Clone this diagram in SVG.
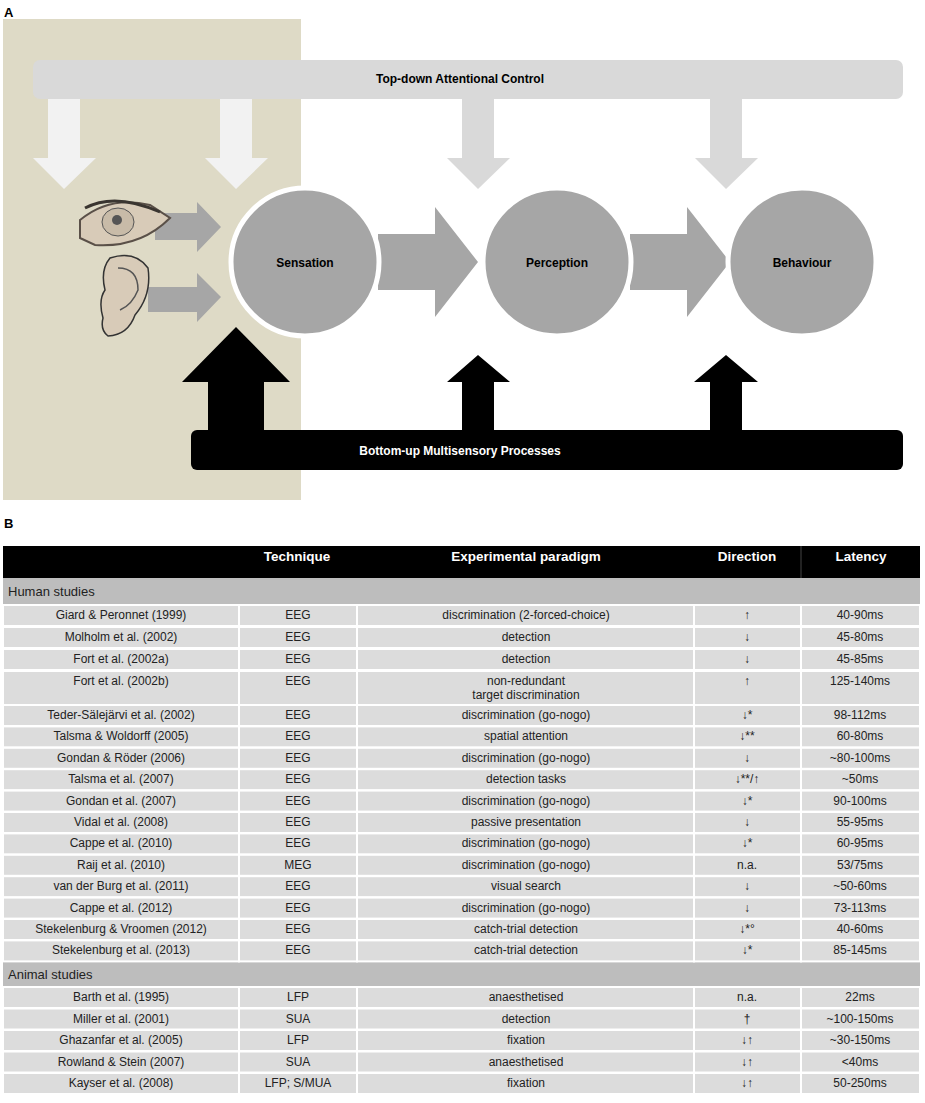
<svg xmlns="http://www.w3.org/2000/svg" width="925" height="1103" viewBox="0 0 925 1103">
<style>
.lbl{font-family:"Liberation Sans",Arial,sans-serif;font-weight:bold;font-size:12px;text-anchor:middle;dominant-baseline:central}
.t{font-family:"Liberation Sans",Arial,sans-serif;font-size:12px;fill:#222;text-anchor:middle;dominant-baseline:central}
.h{font-family:"Liberation Sans",Arial,sans-serif;font-weight:bold;font-size:13.5px;fill:#fff;text-anchor:middle;dominant-baseline:central}
.row{fill:#dcdcdc;stroke:#fff;stroke-width:2}
.sec{fill:#bdbdbd}
.circ{fill:#a6a6a6;stroke:#fff;stroke-width:5}
.ga{fill:#a6a6a6}
.wa{fill:#f2f2f2}
.la{fill:#d9d9d9}
</style>
<rect width="925" height="1103" fill="#fff"/>
<text x="4" y="12" class="lbl" style="text-anchor:start;font-size:13px">A</text>
<text x="4" y="523" class="lbl" style="text-anchor:start;font-size:13px">B</text>
<rect x="3" y="19" width="298" height="481" fill="#dedac6"/>

<g id="topdown">
<rect x="33" y="60" width="870" height="39" rx="7" fill="#d9d9d9"/>
<text x="460" y="79" class="lbl">Top-down Attentional Control</text>
</g>
<g id="bottomup">
<rect x="191" y="430" width="712" height="40" rx="6" fill="#000"/>
<text x="460" y="451" class="lbl" fill="#fff">Bottom-up Multisensory Processes</text>
</g>
<g id="connectors">
<path class="wa" d="M48,99 H80 V158 H96 L64,189 L33,158 H48 Z"/>
<path class="wa" d="M220,99 H252 V158 H268 L236,189 L205,158 H220 Z"/>
<path class="la" d="M462,99 H494 V158 H510 L478,189 L447,158 H462 Z"/>
<path class="la" d="M710,99 H742 V158 H758 L726,189 L695,158 H710 Z"/>
<path class="ga" d="M155,213 H197 V202 L221,227 L197,252 V240 H155 Z"/>
<path class="ga" d="M148,287 H197 V273 L221,297 L197,322 V312 H148 Z"/>
<path class="ga" d="M378,234 H435 V207 L478,262 L435,317 V290 H378 Z"/>
<path class="ga" d="M630,234 H687 V207 L730,262 L687,317 V290 H630 Z"/>
<path d="M208,431 V382 H182 L236,327 L290,382 H264 V431 Z" fill="#000"/>
<path d="M462,431 V382 H447 L478,355 L510,382 H494 V431 Z" fill="#000"/>
<path d="M710,431 V382 H694 L726,355 L758,382 H742 V431 Z" fill="#000"/>
</g>
<g id="eye">
<path d="M80,220 Q110,195 150,205 L170,218 Q140,248 95,245 L80,238 Z" fill="#d8cbb8" stroke="#5a5048" stroke-width="2"/>
<ellipse cx="118" cy="222" rx="16" ry="14" fill="#c8bba8" stroke="#555" stroke-width="1"/>
<circle cx="117" cy="220" r="5" fill="#555"/>
<path d="M85,208 Q115,192 160,212" fill="none" stroke="#3a3530" stroke-width="3"/>
</g>
<g id="ear">
<path d="M110,258 Q135,250 148,268 Q152,295 135,315 Q128,335 108,336 Q100,330 103,318 Q98,300 105,290 Q100,270 110,258 Z" fill="#d8cbb8" stroke="#333" stroke-width="1.5"/>
<path d="M118,268 Q138,268 138,290 Q132,305 120,310" fill="none" stroke="#555" stroke-width="1.5"/>
</g>
<g id="sensation"><circle cx="305" cy="262" r="74" class="circ"/><text x="305" y="263" class="lbl">Sensation</text></g>
<g id="perception"><circle cx="557" cy="262" r="74" class="circ"/><text x="557" y="263" class="lbl">Perception</text></g>
<g id="behaviour"><circle cx="802" cy="262" r="74" class="circ"/><text x="802" y="263" class="lbl">Behaviour</text></g>

<g id="table">
<rect x="3" y="546" width="917" height="32" fill="#000"/>
<line x1="801" y1="546" x2="801" y2="578" stroke="#444"/>
<text x="297" y="556" class="h">Technique</text>
<text x="526" y="556" class="h">Experimental paradigm</text>
<text x="747" y="556" class="h">Direction</text>
<text x="861" y="556" class="h">Latency</text>
<rect x="3" y="578" width="917" height="26" class="sec"/>
<text x="8" y="591" class="t" style="text-anchor:start;font-size:13px">Human studies</text>
<rect x="3" y="962" width="917" height="24" class="sec"/>
<text x="8" y="974" class="t" style="text-anchor:start;font-size:13px">Animal studies</text>
<g id="rows">
<!-- row template columns -->
<g transform="translate(0,605)"><rect x="3" y="0" width="236" height="21" class="row"/><rect x="239" y="0" width="118" height="21" class="row"/><rect x="357" y="0" width="337" height="21" class="row"/><rect x="694" y="0" width="107" height="21" class="row"/><rect x="801" y="0" width="119" height="21" class="row"/>
<text x="121" y="10" class="t">Giard &amp; Peronnet (1999)</text><text x="298" y="10" class="t">EEG</text><text x="526" y="10" class="t">discrimination (2-forced-choice)</text><text x="747" y="10" class="t">↑</text><text x="860" y="10" class="t">40-90ms</text></g>
<g transform="translate(0,627)"><rect x="3" y="0" width="236" height="21" class="row"/><rect x="239" y="0" width="118" height="21" class="row"/><rect x="357" y="0" width="337" height="21" class="row"/><rect x="694" y="0" width="107" height="21" class="row"/><rect x="801" y="0" width="119" height="21" class="row"/>
<text x="121" y="10" class="t">Molholm et al. (2002)</text><text x="298" y="10" class="t">EEG</text><text x="526" y="10" class="t">detection</text><text x="747" y="10" class="t">↓</text><text x="860" y="10" class="t">45-80ms</text></g>
<g transform="translate(0,649)"><rect x="3" y="0" width="236" height="21" class="row"/><rect x="239" y="0" width="118" height="21" class="row"/><rect x="357" y="0" width="337" height="21" class="row"/><rect x="694" y="0" width="107" height="21" class="row"/><rect x="801" y="0" width="119" height="21" class="row"/>
<text x="121" y="10" class="t">Fort et al. (2002a)</text><text x="298" y="10" class="t">EEG</text><text x="526" y="10" class="t">detection</text><text x="747" y="10" class="t">↓</text><text x="860" y="10" class="t">45-85ms</text></g>
<g transform="translate(0,671)"><rect x="3" y="0" width="236" height="34" class="row"/><rect x="239" y="0" width="118" height="34" class="row"/><rect x="357" y="0" width="337" height="34" class="row"/><rect x="694" y="0" width="107" height="34" class="row"/><rect x="801" y="0" width="119" height="34" class="row"/>
<text x="121" y="10" class="t">Fort et al. (2002b)</text><text x="298" y="10" class="t">EEG</text><text x="526" y="10" class="t">non-redundant</text><text x="526" y="24" class="t">target discrimination</text><text x="747" y="10" class="t">↑</text><text x="860" y="10" class="t">125-140ms</text></g>
<g transform="translate(0,705)"><rect x="3" y="0" width="236" height="21" class="row"/><rect x="239" y="0" width="118" height="21" class="row"/><rect x="357" y="0" width="337" height="21" class="row"/><rect x="694" y="0" width="107" height="21" class="row"/><rect x="801" y="0" width="119" height="21" class="row"/>
<text x="121" y="10" class="t">Teder-Sälejärvi et al. (2002)</text><text x="298" y="10" class="t">EEG</text><text x="526" y="10" class="t">discrimination  (go-nogo)</text><text x="747" y="10" class="t">↓*</text><text x="860" y="10" class="t">98-112ms</text></g>
<g transform="translate(0,726.4)"><rect x="3" y="0" width="236" height="21" class="row"/><rect x="239" y="0" width="118" height="21" class="row"/><rect x="357" y="0" width="337" height="21" class="row"/><rect x="694" y="0" width="107" height="21" class="row"/><rect x="801" y="0" width="119" height="21" class="row"/>
<text x="121" y="10" class="t">Talsma &amp; Woldorff (2005)</text><text x="298" y="10" class="t">EEG</text><text x="526" y="10" class="t">spatial attention</text><text x="747" y="10" class="t">↓**</text><text x="860" y="10" class="t">60-80ms</text></g>
<g transform="translate(0,747.8)"><rect x="3" y="0" width="236" height="21" class="row"/><rect x="239" y="0" width="118" height="21" class="row"/><rect x="357" y="0" width="337" height="21" class="row"/><rect x="694" y="0" width="107" height="21" class="row"/><rect x="801" y="0" width="119" height="21" class="row"/>
<text x="121" y="10" class="t">Gondan &amp; Röder (2006)</text><text x="298" y="10" class="t">EEG</text><text x="526" y="10" class="t">discrimination (go-nogo)</text><text x="747" y="10" class="t">↓</text><text x="860" y="10" class="t">~80-100ms</text></g>
<g transform="translate(0,769.2)"><rect x="3" y="0" width="236" height="21" class="row"/><rect x="239" y="0" width="118" height="21" class="row"/><rect x="357" y="0" width="337" height="21" class="row"/><rect x="694" y="0" width="107" height="21" class="row"/><rect x="801" y="0" width="119" height="21" class="row"/>
<text x="121" y="10" class="t">Talsma et al. (2007)</text><text x="298" y="10" class="t">EEG</text><text x="526" y="10" class="t">detection tasks</text><text x="747" y="10" class="t">↓**/↑</text><text x="860" y="10" class="t">~50ms</text></g>
<g transform="translate(0,790.6)"><rect x="3" y="0" width="236" height="21" class="row"/><rect x="239" y="0" width="118" height="21" class="row"/><rect x="357" y="0" width="337" height="21" class="row"/><rect x="694" y="0" width="107" height="21" class="row"/><rect x="801" y="0" width="119" height="21" class="row"/>
<text x="121" y="10" class="t">Gondan et al. (2007)</text><text x="298" y="10" class="t">EEG</text><text x="526" y="10" class="t">discrimination (go-nogo)</text><text x="747" y="10" class="t">↓*</text><text x="860" y="10" class="t">90-100ms</text></g>
<g transform="translate(0,812)"><rect x="3" y="0" width="236" height="21" class="row"/><rect x="239" y="0" width="118" height="21" class="row"/><rect x="357" y="0" width="337" height="21" class="row"/><rect x="694" y="0" width="107" height="21" class="row"/><rect x="801" y="0" width="119" height="21" class="row"/>
<text x="121" y="10" class="t">Vidal et al. (2008)</text><text x="298" y="10" class="t">EEG</text><text x="526" y="10" class="t">passive presentation</text><text x="747" y="10" class="t">↓</text><text x="860" y="10" class="t">55-95ms</text></g>
<g transform="translate(0,833.4)"><rect x="3" y="0" width="236" height="21" class="row"/><rect x="239" y="0" width="118" height="21" class="row"/><rect x="357" y="0" width="337" height="21" class="row"/><rect x="694" y="0" width="107" height="21" class="row"/><rect x="801" y="0" width="119" height="21" class="row"/>
<text x="121" y="10" class="t">Cappe et al. (2010)</text><text x="298" y="10" class="t">EEG</text><text x="526" y="10" class="t">discrimination (go-nogo)</text><text x="747" y="10" class="t">↓*</text><text x="860" y="10" class="t">60-95ms</text></g>
<g transform="translate(0,854.8)"><rect x="3" y="0" width="236" height="21" class="row"/><rect x="239" y="0" width="118" height="21" class="row"/><rect x="357" y="0" width="337" height="21" class="row"/><rect x="694" y="0" width="107" height="21" class="row"/><rect x="801" y="0" width="119" height="21" class="row"/>
<text x="121" y="10" class="t">Raij et al. (2010)</text><text x="298" y="10" class="t">MEG</text><text x="526" y="10" class="t">discrimination (go-nogo)</text><text x="747" y="10" class="t">n.a.</text><text x="860" y="10" class="t">53/75ms</text></g>
<g transform="translate(0,876.2)"><rect x="3" y="0" width="236" height="21" class="row"/><rect x="239" y="0" width="118" height="21" class="row"/><rect x="357" y="0" width="337" height="21" class="row"/><rect x="694" y="0" width="107" height="21" class="row"/><rect x="801" y="0" width="119" height="21" class="row"/>
<text x="121" y="10" class="t">van der Burg et al. (2011)</text><text x="298" y="10" class="t">EEG</text><text x="526" y="10" class="t">visual search</text><text x="747" y="10" class="t">↓</text><text x="860" y="10" class="t">~50-60ms</text></g>
<g transform="translate(0,897.6)"><rect x="3" y="0" width="236" height="21" class="row"/><rect x="239" y="0" width="118" height="21" class="row"/><rect x="357" y="0" width="337" height="21" class="row"/><rect x="694" y="0" width="107" height="21" class="row"/><rect x="801" y="0" width="119" height="21" class="row"/>
<text x="121" y="10" class="t">Cappe et al. (2012)</text><text x="298" y="10" class="t">EEG</text><text x="526" y="10" class="t">discrimination (go-nogo)</text><text x="747" y="10" class="t">↓</text><text x="860" y="10" class="t">73-113ms</text></g>
<g transform="translate(0,919)"><rect x="3" y="0" width="236" height="21" class="row"/><rect x="239" y="0" width="118" height="21" class="row"/><rect x="357" y="0" width="337" height="21" class="row"/><rect x="694" y="0" width="107" height="21" class="row"/><rect x="801" y="0" width="119" height="21" class="row"/>
<text x="121" y="10" class="t">Stekelenburg &amp; Vroomen (2012)</text><text x="298" y="10" class="t">EEG</text><text x="526" y="10" class="t">catch-trial detection</text><text x="747" y="10" class="t">↓*°</text><text x="860" y="10" class="t">40-60ms</text></g>
<g transform="translate(0,940.4)"><rect x="3" y="0" width="236" height="21" class="row"/><rect x="239" y="0" width="118" height="21" class="row"/><rect x="357" y="0" width="337" height="21" class="row"/><rect x="694" y="0" width="107" height="21" class="row"/><rect x="801" y="0" width="119" height="21" class="row"/>
<text x="121" y="10" class="t">Stekelenburg et al. (2013)</text><text x="298" y="10" class="t">EEG</text><text x="526" y="10" class="t">catch-trial detection</text><text x="747" y="10" class="t">↓*</text><text x="860" y="10" class="t">85-145ms</text></g>
<g transform="translate(0,987)"><rect x="3" y="0" width="236" height="21" class="row"/><rect x="239" y="0" width="118" height="21" class="row"/><rect x="357" y="0" width="337" height="21" class="row"/><rect x="694" y="0" width="107" height="21" class="row"/><rect x="801" y="0" width="119" height="21" class="row"/>
<text x="121" y="10" class="t">Barth et al. (1995)</text><text x="298" y="10" class="t">LFP</text><text x="526" y="10" class="t">anaesthetised</text><text x="747" y="10" class="t">n.a.</text><text x="860" y="10" class="t">22ms</text></g>
<g transform="translate(0,1008.5)"><rect x="3" y="0" width="236" height="21" class="row"/><rect x="239" y="0" width="118" height="21" class="row"/><rect x="357" y="0" width="337" height="21" class="row"/><rect x="694" y="0" width="107" height="21" class="row"/><rect x="801" y="0" width="119" height="21" class="row"/>
<text x="121" y="10" class="t">Miller et al. (2001)</text><text x="298" y="10" class="t">SUA</text><text x="526" y="10" class="t">detection</text><text x="747" y="10" class="t">†</text><text x="860" y="10" class="t">~100-150ms</text></g>
<g transform="translate(0,1030)"><rect x="3" y="0" width="236" height="21" class="row"/><rect x="239" y="0" width="118" height="21" class="row"/><rect x="357" y="0" width="337" height="21" class="row"/><rect x="694" y="0" width="107" height="21" class="row"/><rect x="801" y="0" width="119" height="21" class="row"/>
<text x="121" y="10" class="t">Ghazanfar et al. (2005)</text><text x="298" y="10" class="t">LFP</text><text x="526" y="10" class="t">fixation</text><text x="747" y="10" class="t">↓↑</text><text x="860" y="10" class="t">~30-150ms</text></g>
<g transform="translate(0,1051.5)"><rect x="3" y="0" width="236" height="21" class="row"/><rect x="239" y="0" width="118" height="21" class="row"/><rect x="357" y="0" width="337" height="21" class="row"/><rect x="694" y="0" width="107" height="21" class="row"/><rect x="801" y="0" width="119" height="21" class="row"/>
<text x="121" y="10" class="t">Rowland &amp; Stein (2007)</text><text x="298" y="10" class="t">SUA</text><text x="526" y="10" class="t">anaesthetised</text><text x="747" y="10" class="t">↓↑</text><text x="860" y="10" class="t">&lt;40ms</text></g>
<g transform="translate(0,1073)"><rect x="3" y="0" width="236" height="21" class="row"/><rect x="239" y="0" width="118" height="21" class="row"/><rect x="357" y="0" width="337" height="21" class="row"/><rect x="694" y="0" width="107" height="21" class="row"/><rect x="801" y="0" width="119" height="21" class="row"/>
<text x="121" y="10" class="t">Kayser et al. (2008)</text><text x="298" y="10" class="t">LFP; S/MUA</text><text x="526" y="10" class="t">fixation</text><text x="747" y="10" class="t">↓↑</text><text x="860" y="10" class="t">50-250ms</text></g>
</g>
</g>
</svg>
